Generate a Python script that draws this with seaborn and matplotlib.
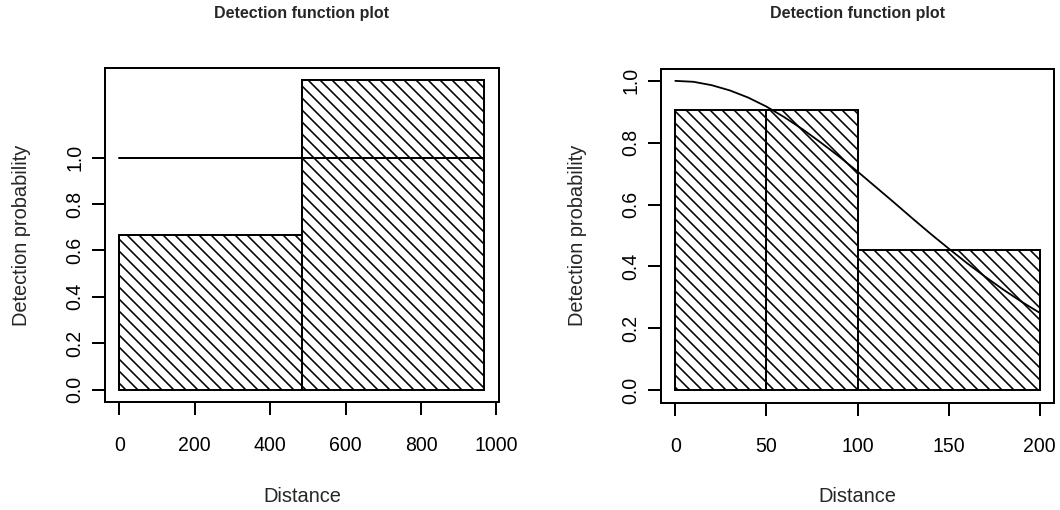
import numpy as np
import matplotlib
matplotlib.use("Agg")
import matplotlib.pyplot as plt
import seaborn as sns

# left panel: 2 bins, flat detection function
left_edges = [0, 483.5, 967]
left_heights = [0.667, 1.333]
left_line_x = [0, 967]
left_line_y = [1.0, 1.0]

# right panel: 3 bins, half-normal looking curve
right_edges = [0, 50, 100, 200]
right_heights = [0.905, 0.905, 0.453]
curve_x = [0, 10, 20, 30, 40, 50, 60, 70, 80, 90, 100,
           110, 120, 130, 140, 150, 160, 170, 180, 190, 200]
curve_y = [1.0, 0.997, 0.986, 0.969, 0.946, 0.917, 0.882, 0.843, 0.80, 0.755, 0.707,
           0.657, 0.607, 0.556, 0.506, 0.458, 0.411, 0.367, 0.325, 0.286, 0.25]

sns.set_style("ticks")
plt.rcParams['font.family'] = ['Liberation Sans', 'DejaVu Sans']
plt.rcParams['hatch.linewidth'] = 1.6
plt.rcParams['hatch.color'] = 'black'

DPI = 72
W, H = 1060, 510
fig = plt.figure(figsize=(W / DPI, H / DPI), dpi=DPI)

# axes boxes in pixels: (left, top, right, bottom)
boxes = [(104.7, 68, 499, 402), (660.7, 68.5, 1054.3, 402.5)]


def make_ax(box):
    l, t, r, b = box
    return fig.add_axes([l / W, 1 - b / H, (r - l) / W, (b - t) / H])


def hist_panel(ax, edges, heights):
    mids = [(edges[i] + edges[i + 1]) / 2 for i in range(len(heights))]
    sns.histplot(x=mids, weights=heights, bins=edges, stat='count',
                 color='white', edgecolor='black', linewidth=2, alpha=1, ax=ax)
    for p in ax.patches:
        p.set_hatch('\\\\')
        p.set_facecolor('white')
        p.set_edgecolor('black')


def style_ax(ax, box):
    l, t, r, b = box
    wpx, hpx = r - l, b - t
    for s in ax.spines.values():
        s.set_visible(True)
        s.set_linewidth(2)
        s.set_color('black')
    ax.tick_params(axis='both', length=13, width=2, color='black',
                   labelsize=19.5, labelcolor='black')
    ax.tick_params(axis='x', pad=21)
    ax.tick_params(axis='y', pad=7, labelrotation=90)
    for lab in ax.get_yticklabels():
        lab.set_va('center')
    ax.set_xlabel('Distance', fontsize=20)
    ax.set_ylabel('Detection probability', fontsize=20)
    ax.xaxis.label.set_va('baseline')
    ax.xaxis.set_label_coords(0.5, -(501.7 - b) / hpx)
    ax.yaxis.label.set_va('center')
    ax.yaxis.set_label_coords(-83 / wpx, 0.5)
    ax.set_title('Detection function plot', fontsize=16, fontweight='bold',
                 y=1 + (t - 24) / hpx, va='baseline')
    ax.grid(False)


# left panel
ax1 = make_ax(boxes[0])
hist_panel(ax1, left_edges, left_heights)
sns.lineplot(x=left_line_x, y=left_line_y, color='black', linewidth=2, ax=ax1)
ax1.set_xlim(-38.7, 1006.7)
ax1.set_ylim(-0.0533, 1.3863)
ax1.set_xticks([0, 200, 400, 600, 800, 1000])
ax1.set_yticks([0.0, 0.2, 0.4, 0.6, 0.8, 1.0])
ax1.set_yticklabels(['0.0', '0.2', '0.4', '0.6', '0.8', '1.0'])
style_ax(ax1, boxes[0])

# right panel
ax2 = make_ax(boxes[1])
hist_panel(ax2, right_edges, right_heights)
sns.lineplot(x=curve_x, y=curve_y, color='black', linewidth=1.8, ax=ax2)
ax2.set_xlim(-8, 208)
ax2.set_ylim(-0.04, 1.04)
ax2.set_xticks([0, 50, 100, 150, 200])
ax2.set_yticks([0.0, 0.2, 0.4, 0.6, 0.8, 1.0])
ax2.set_yticklabels(['0.0', '0.2', '0.4', '0.6', '0.8', '1.0'])
style_ax(ax2, boxes[1])

fig.savefig('out.png', dpi=DPI, facecolor='white')
